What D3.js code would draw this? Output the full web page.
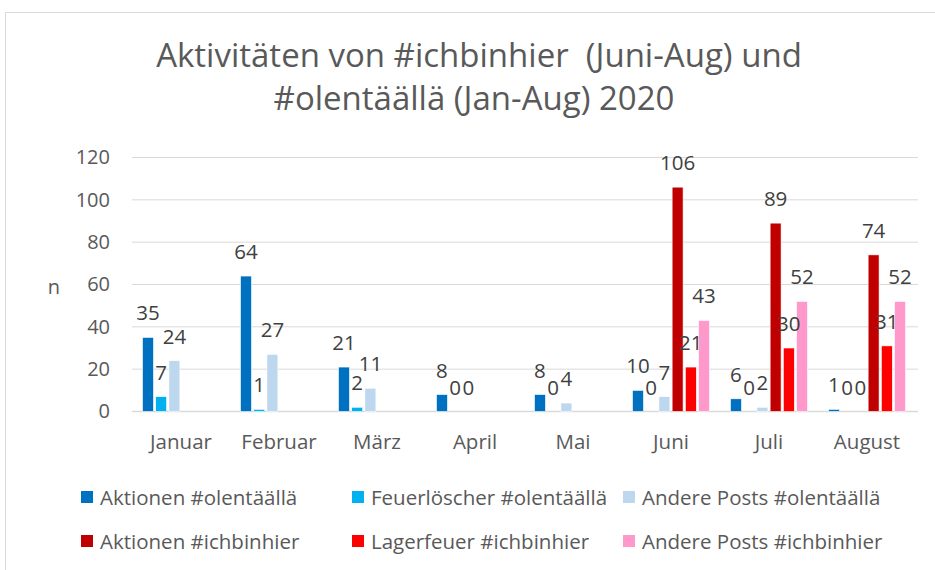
<!DOCTYPE html>
<html>
<head>
<meta charset="utf-8">
<script src="https://cdn.jsdelivr.net/npm/d3@7"></script>
<style>
  body { margin: 0; background: #fff; }
  text { font-family: "Open Sans", sans-serif; }
</style>
</head>
<body>
<div class="chart"></div>
<script>
const WIDTH = 935
const HEIGHT = 570

const MONTHS = ["Januar", "Februar", "März", "April", "Mai", "Juni", "Juli", "August"]
const SERIES = ["Aktionen #olentäällä", "Feuerlöscher #olentäällä", "Andere Posts #olentäällä",
                "Aktionen #ichbinhier", "Lagerfeuer #ichbinhier", "Andere Posts #ichbinhier"]
const COLORS = ["#0070C0", "#00B0F0", "#BDD7EE", "#C00000", "#FF0000", "#FF99CC"]

const AKTIONEN_OLEN = [35, 64, 21, 8, 8, 10, 6, 1]
const FEUER_OLEN = [7, 1, 2, 0, 0, 0, 0, 0]
const ANDERE_OLEN = [24, 27, 11, 0, 4, 7, 2, 0]
const AKTIONEN_ICH = [null, null, null, null, null, 106, 89, 74]
const LAGER_ICH = [null, null, null, null, null, 21, 30, 31]
const ANDERE_ICH = [null, null, null, null, null, 43, 52, 52]
const Y_TICKS = [0, 20, 40, 60, 80, 100, 120]

const VALUES = [AKTIONEN_OLEN, FEUER_OLEN, ANDERE_OLEN, AKTIONEN_ICH, LAGER_ICH, ANDERE_ICH]

const svg = d3.select(".chart").append("svg").attr("width", WIDTH).attr("height", HEIGHT)

// chart border
svg.append("rect").attr("x", 5.5).attr("y", 12.5).attr("width", WIDTH).attr("height", HEIGHT)
  .attr("fill", "#fff").attr("stroke", "#D9D9D9")

// title
const title = svg.append("text").attr("text-anchor", "middle").attr("fill", "#595959").attr("font-size", 33)
title.append("tspan").attr("x", 479).attr("y", 67).attr("xml:space", "preserve").text("Aktivitäten von #ichbinhier  (Juni-Aug) und")
title.append("tspan").attr("x", 474).attr("y", 110).text("#olentäällä (Jan-Aug) 2020")

// scales
const x = d3.scaleBand().domain(MONTHS).range([132, 916])
const xInner = d3.scaleBand().domain(SERIES).range([10.5, 87.5]).paddingInner(0.17)
const y = d3.scaleLinear().domain([0, 120]).range([411.5, 157.5])

// gridlines
svg.append("g").selectAll("line").data(Y_TICKS).join("line")
  .attr("x1", 132).attr("x2", 918)
  .attr("y1", d => y(d)).attr("y2", d => y(d))
  .attr("stroke", "#D9D9D9").attr("stroke-width", d => d === 0 ? 1.5 : 1)

// y axis
let leftAxis = d3.axisLeft(y).tickValues(Y_TICKS).tickSize(0).tickPadding(0)
let yAxis = svg.append("g").attr("transform", "translate(110, 0)").call(leftAxis)
yAxis.select(".domain").remove()
yAxis.selectAll("text").attr("font-size", 20).attr("fill", "#595959").attr("font-family", "Open Sans")

svg.append("text").attr("x", 54).attr("y", 294).attr("text-anchor", "middle")
  .attr("font-size", 20).attr("fill", "#595959").text("n")

// x axis
let bottomAxis = d3.axisBottom(x).tickSize(0).tickPadding(0)
let xAxis = svg.append("g").attr("transform", "translate(0, 434)").call(bottomAxis)
xAxis.select(".domain").remove()
xAxis.selectAll("text").attr("font-size", 20.5).attr("fill", "#595959").attr("font-family", "Open Sans")

// bars
const rows = []
VALUES.forEach((vals, i) => {
  vals.forEach((v, j) => {
    if (v !== null) rows.push({ series: SERIES[i], month: MONTHS[j], value: v, color: COLORS[i] })
  })
})

svg.append("g").selectAll("rect").data(rows).join("rect")
  .attr("x", d => x(d.month) + xInner(d.series))
  .attr("width", xInner.bandwidth())
  .attr("y", d => y(d.value))
  .attr("height", d => y(0) - y(d.value))
  .attr("fill", d => d.color)
  .attr("stroke", "#fff").attr("stroke-width", 0.6)

// data labels
svg.append("g").selectAll("text").data(rows).join("text")
  .attr("x", d => x(d.month) + xInner(d.series) + xInner.bandwidth() / 2)
  .attr("y", d => y(d.value) - 17)
  .attr("text-anchor", "middle")
  .attr("font-size", 20.5).attr("fill", "#404040")
  .text(d => d.value)

// legend
const LEGEND_X = [81, 352, 623]
const LEGEND_Y = [497, 541]
const legend = svg.append("g").selectAll("g").data(SERIES).join("g")
  .attr("transform", (d, i) => `translate(${LEGEND_X[i % 3]}, ${LEGEND_Y[Math.floor(i / 3)]})`)
legend.append("rect").attr("x", 0).attr("y", -6).attr("width", 12).attr("height", 12)
  .attr("fill", (d, i) => COLORS[i])
legend.append("text").attr("x", 19).attr("y", 7.5).attr("font-size", 20.5).attr("fill", "#595959").text(d => d)
</script>
</body>
</html>
